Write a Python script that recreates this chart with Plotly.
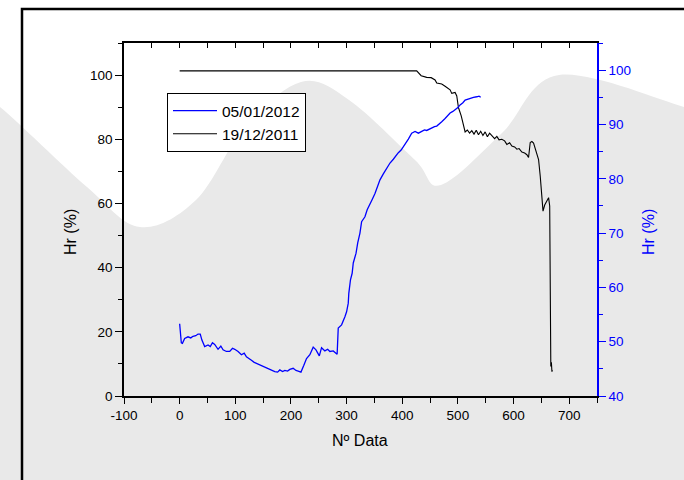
import plotly.graph_objects as go

# ---- data -------------------------------------------------------------
# 19/12/2011 series (left axis, Hr %)
black_x = [0, 50, 100, 150, 200, 250, 300, 350, 400, 426, 434, 444, 452, 459,
           462, 471, 477, 486, 489, 495, 498, 501, 506, 510, 513, 517, 521, 525,
           529, 533, 537, 541, 545, 549, 553, 557, 561, 566, 570, 574, 579, 584,
           588, 593, 597, 602, 606, 610, 615, 620, 624, 627, 630, 633, 636, 639,
           642, 645, 648, 651, 653, 656, 660, 663, 665, 666, 667, 668, 669, 670]
black_y = [101.3, 101.3, 101.3, 101.3, 101.3, 101.3, 101.3, 101.3, 101.3, 101.3,
           99.8, 99.3, 99.2, 98.5, 97.5, 97.2, 96.5, 95.4, 94.3, 94.6, 93.5, 89.9,
           87.3, 84.2, 82.3, 82.9, 81.9, 82.7, 81.6, 82.8, 81.4, 82.5, 81.2, 82.3,
           80.8, 81.9, 81.0, 80.2, 80.9, 79.8, 80.0, 79.5, 78.4, 78.9, 77.9, 77.6,
           76.9, 77.1, 76.0, 75.7, 75.2, 74.3, 79.0, 79.3, 78.8, 76.9, 75.8, 73.7,
           68.5, 61.3, 57.6, 59.5, 60.7, 61.8, 59.2, 12.5, 9.2, 10.5, 7.6, 8.0]

# 05/01/2012 series (right axis, Hr %)
blue_x = [0, 3, 5, 9, 15, 20, 24, 29, 33, 37, 40, 45, 51, 55, 59, 63, 69, 74, 78,
          84, 90, 95, 99, 105, 111, 116, 120, 125, 129, 134, 138, 143, 147, 152,
          156, 162, 167, 171, 176, 180, 185, 189, 194, 198, 204, 209, 213, 218,
          223, 228, 234, 240, 245, 251, 255, 261, 266, 270, 276, 282, 283, 285,
          291, 297, 300, 303, 304, 307, 310, 312, 317, 320, 324, 327, 333, 337,
          342, 346, 351, 355, 360, 366, 372, 378, 384, 388, 393, 398, 402, 407,
          411, 417, 423, 429, 435, 440, 444, 449, 453, 458, 462, 467, 471, 477,
          482, 486, 491, 495, 500, 504, 509, 513, 518, 522, 528, 534, 538, 541]
blue_y = [53.3, 49.8, 49.7, 50.6, 50.9, 50.7, 51.0, 51.1, 51.4, 51.4, 50.3, 49.1,
          49.4, 49.1, 49.8, 49.5, 48.6, 49.2, 48.5, 48.2, 48.2, 48.8, 48.6, 48.2,
          47.6, 47.9, 47.2, 46.9, 46.6, 46.2, 46.0, 45.9, 45.7, 45.4, 45.1, 44.9,
          44.6, 44.5, 44.4, 44.8, 44.5, 44.7, 44.6, 44.9, 45.1, 44.7, 44.6, 44.4,
          45.6, 46.9, 47.6, 49.0, 48.5, 47.4, 48.9, 48.3, 48.6, 48.2, 48.3, 47.9,
          47.7, 52.5, 53.1, 54.6, 55.5, 57.1, 58.9, 61.4, 62.6, 64.5, 66.3, 68.2,
          70.0, 72.1, 73.0, 74.3, 75.5, 76.2, 77.3, 78.4, 79.8, 80.9, 81.9, 82.9,
          83.6, 84.2, 84.8, 85.3, 85.9, 86.6, 87.3, 88.4, 88.7, 88.4, 88.7, 89.0,
          88.9, 89.2, 89.3, 89.6, 89.7, 90.1, 90.5, 91.1, 91.6, 92.1, 92.4, 92.7,
          93.1, 93.6, 94.0, 94.5, 94.7, 94.9, 95.0, 95.1, 95.2, 95.0]

series_names = ["05/01/2012", "19/12/2011"]
x_tickvals = [-100, 0, 100, 200, 300, 400, 500, 600, 700]
x_ticktext = ["-100", "0", "100", "200", "300", "400", "500", "600", "700"]
x_title = "Nº Data"
y_title = "Hr (%)"

# ---- geometry of the page ----------------------------------------------
W, H = 684, 480
L, R, T, B = 124, 87, 43, 84
PW, PH = W - L - R, H - T - B


def px(x):
    return (x - L) / PW


def py(y):
    return (H - B - y) / PH


# wavy grey backdrop, smooth curve through a few pixel anchors
wave = [(-20, 100), (0, 107), (87, 187), (140, 227), (196, 200), (245, 127),
        (301, 82), (349, 100), (415, 160), (441, 185), (502, 133), (559, 75),
        (684, 107), (704, 115)]


def smooth_path(pts):
    d = f"M{px(pts[0][0]):.4f},{py(pts[0][1]):.4f}"
    n = len(pts)
    for i in range(n - 1):
        p0 = pts[max(i - 1, 0)]
        p1 = pts[i]
        p2 = pts[i + 1]
        p3 = pts[min(i + 2, n - 1)]
        c1 = (p1[0] + (p2[0] - p0[0]) / 6, p1[1] + (p2[1] - p0[1]) / 6)
        c2 = (p2[0] - (p3[0] - p1[0]) / 6, p2[1] - (p3[1] - p1[1]) / 6)
        d += (f" C{px(c1[0]):.4f},{py(c1[1]):.4f} {px(c2[0]):.4f},{py(c2[1]):.4f}"
              f" {px(p2[0]):.4f},{py(p2[1]):.4f}")
    d += f" L{px(704):.4f},{py(500):.4f} L{px(-20):.4f},{py(500):.4f} Z"
    return d


FONT = "Arial, Liberation Sans, sans-serif"
BLUE = "#0000ff"

fig = go.Figure()
fig.add_trace(go.Scatter(x=blue_x, y=blue_y, mode="lines", name=series_names[0],
                         line=dict(color=BLUE, width=1.3), yaxis="y2"))
fig.add_trace(go.Scatter(x=black_x, y=black_y, mode="lines", name=series_names[1],
                         line=dict(color="black", width=1.1)))
# empty trace so the top (tick-only) axis gets drawn
fig.add_trace(go.Scatter(x=[], y=[], xaxis="x2", showlegend=False, hoverinfo="skip"))

fig.update_layout(
    width=W, height=H,
    margin=dict(l=L, r=R, t=T, b=B),
    paper_bgcolor="white",
    plot_bgcolor="rgba(0,0,0,0)",
    font=dict(family=FONT, color="black", size=13.5),
    showlegend=True,
    legend=dict(x=px(167), y=py(93), xanchor="left", yanchor="top",
                bgcolor="white", bordercolor="black", borderwidth=1,
                font=dict(size=15.5, family=FONT), tracegroupgap=0,
                itemwidth=44),
    xaxis=dict(range=[-100, 750], tickmode="array", tickvals=x_tickvals,
               ticktext=x_ticktext, ticks="outside", ticklen=6,
               tickwidth=1, tickcolor="black",
               minor=dict(dtick=50, tick0=0, ticks="outside", ticklen=5,
                          tickcolor="black"),
               showline=True, linecolor="black", linewidth=1.5,
               showgrid=False, zeroline=False, tickfont=dict(size=13.5)),
    xaxis2=dict(range=[-100, 750], overlaying="x", side="top", anchor="y",
                tick0=0, dtick=50, ticks="inside", ticklen=5, tickcolor="black",
                showticklabels=False, showline=True, linecolor="black",
                linewidth=1.5, showgrid=False, zeroline=False),
    yaxis=dict(range=[0, 110], dtick=20, ticks="outside", ticklen=7,
               tickcolor="black",
               minor=dict(dtick=10, ticks="outside", ticklen=4, tickcolor="black"),
               showline=True, linecolor="black", linewidth=1.5,
               showgrid=False, zeroline=False, tickfont=dict(size=13.5)),
    yaxis2=dict(range=[40, 105], dtick=10, overlaying="y", side="right",
                ticks="outside", ticklen=7, tickcolor=BLUE,
                minor=dict(dtick=5, ticks="outside", ticklen=4, tickcolor=BLUE),
                showline=True, linecolor=BLUE, linewidth=1.8,
                showgrid=False, zeroline=False,
                tickfont=dict(size=13.5, color=BLUE)),
    shapes=[
        dict(type="path", xref="paper", yref="paper", path=smooth_path(wave),
             fillcolor="#e9e9e9", line=dict(width=0), layer="below"),
        dict(type="rect", xref="paper", yref="paper",
             x0=px(22), x1=px(720), y0=py(9), y1=py(520),
             line=dict(color="black", width=2.5), fillcolor="rgba(0,0,0,0)",
             layer="below"),
    ],
    annotations=[
        dict(text=x_title, xref="paper", yref="paper", x=px(360), y=py(440),
             xanchor="center", yanchor="middle",
             showarrow=False, font=dict(size=16)),
        dict(text=y_title, xref="paper", yref="paper", x=px(70), y=py(232),
             xanchor="center", yanchor="middle",
             textangle=-90, showarrow=False, font=dict(size=16)),
        dict(text=y_title, xref="paper", yref="paper", x=px(648), y=py(232),
             xanchor="center", yanchor="middle",
             textangle=-90, showarrow=False, font=dict(size=16, color=BLUE)),
    ],
)

fig.write_html("out.html")
